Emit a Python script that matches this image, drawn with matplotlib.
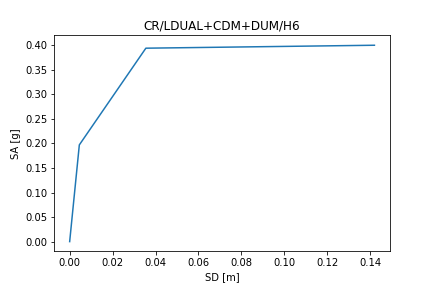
import matplotlib
matplotlib.use("Agg")
import matplotlib.pyplot as plt

# capacity curve points
sd = [0.0, 0.0045, 0.0355, 0.1420]
sa = [0.0, 0.197, 0.394, 0.400]

fig = plt.figure(figsize=(6, 4), dpi=72)
fig.subplots_adjust(left=0.126, right=0.902, top=0.877, bottom=0.127)
plt.plot(sd, sa)
plt.title("CR/LDUAL+CDM+DUM/H6")
plt.xlabel("SD [m]")
plt.ylabel("SA [g]")
plt.savefig("out.png", dpi=72)
